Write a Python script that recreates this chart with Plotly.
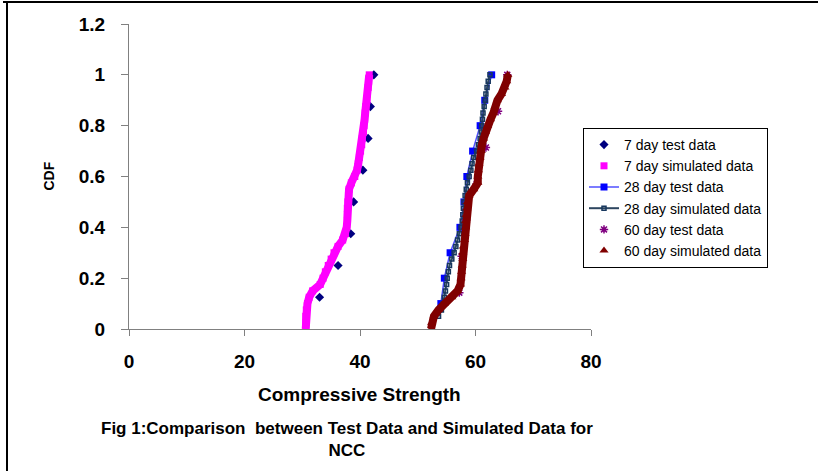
import plotly.graph_objects as go

# ---- data ----
cdf_7_test = [0.125, 0.25, 0.375, 0.5, 0.625, 0.75, 0.875, 1.0]
str_7_test = [33.0, 36.2, 38.4, 38.9, 40.5, 41.4, 41.8, 42.4]

cdf_sim = [0.0, 0.025, 0.05, 0.075, 0.10, 0.125, 0.15, 0.175, 0.20, 0.225,
           0.25, 0.275, 0.30, 0.325, 0.35, 0.375, 0.40, 0.425, 0.45, 0.475,
           0.50, 0.525, 0.55, 0.575, 0.60, 0.625, 0.65, 0.675, 0.70, 0.725,
           0.75, 0.775, 0.80, 0.825, 0.85, 0.875, 0.90, 0.925, 0.95, 0.975, 1.0]
str_7_sim = [30.6, 30.6, 30.6, 30.7, 30.9, 31.2, 31.8, 33.1, 33.6, 34.0,
             34.5, 35.0, 35.5, 36.2, 37.0, 37.5, 37.7, 37.8, 37.8, 37.8,
             37.9, 38.0, 38.1, 38.5, 39.1, 39.5, 39.7, 39.9, 40.1, 40.3,
             40.4, 40.6, 40.7, 40.8, 40.9, 41.0, 41.2, 41.3, 41.4, 41.5, 41.6]

cdf_28_test = [0.1, 0.2, 0.3, 0.4, 0.5, 0.6, 0.7, 0.8, 0.9, 1.0]
str_28_test = [54.0, 54.6, 55.6, 57.3, 58.0, 58.5, 59.5, 60.8, 61.6, 62.8]

cdf_28_sim = [0.05, 0.075, 0.10, 0.125, 0.15, 0.175, 0.20, 0.225, 0.25, 0.275,
              0.30, 0.325, 0.35, 0.375, 0.40, 0.425, 0.45, 0.475, 0.50, 0.525,
              0.55, 0.575, 0.60, 0.625, 0.65, 0.675, 0.70, 0.725, 0.75, 0.775,
              0.80, 0.825, 0.85, 0.875, 0.90, 0.925, 0.95, 0.975, 1.0]
str_28_sim = [53.6, 54.1, 54.4, 54.6, 54.8, 55.0, 55.1, 55.3, 55.5, 55.9,
              56.3, 56.6, 56.9, 57.2, 57.5, 57.7, 57.8, 57.9, 58.0, 58.2,
              58.4, 58.6, 58.9, 59.2, 59.4, 59.7, 60.2, 60.5, 60.8, 61.0,
              61.1, 61.2, 61.3, 61.5, 61.7, 61.8, 62.0, 62.2, 62.5]

cdf_60_test = [0.143, 0.286, 0.429, 0.571, 0.714, 0.857, 1.0]
str_60_test = [57.2, 57.6, 58.4, 60.2, 61.8, 63.9, 65.5]

str_60_sim = [52.3, 52.4, 52.8, 53.6, 54.6, 55.9, 56.9, 57.4, 57.5, 57.6,
              57.7, 57.8, 57.8, 57.9, 58.1, 58.2, 58.3, 58.3, 58.4, 58.5,
              58.6, 58.9, 59.7, 60.4, 60.4, 60.5, 60.6, 60.8, 61.0, 61.1,
              61.4, 61.7, 62.1, 62.6, 63.1, 63.4, 63.8, 64.5, 65.1, 65.4, 65.6]

x_ticks = [0, 20, 40, 60, 80]
x_tick_text = ["0", "20", "40", "60", "80"]
y_ticks = [0, 0.2, 0.4, 0.6, 0.8, 1, 1.2]
y_tick_text = ["0", "0.2", "0.4", "0.6", "0.8", "1", "1.2"]

FONT = "Liberation Sans, Arial, sans-serif"

fig = go.Figure()

fig.add_trace(go.Scatter(x=str_7_test, y=cdf_7_test, mode="markers",
                         name="7 day test data",
                         marker=dict(symbol="diamond", size=7, color="#000080")))
fig.add_trace(go.Scatter(x=str_7_sim, y=cdf_sim, mode="lines",
                         line=dict(color="#FF00FF", width=8), showlegend=False,
                         hoverinfo="skip"))
fig.add_trace(go.Scatter(x=str_7_sim, y=cdf_sim, mode="markers",
                         name="7 day simulated data",
                         marker=dict(symbol="square", size=7, color="#FF00FF")))
fig.add_trace(go.Scatter(x=str_28_test, y=cdf_28_test, mode="lines+markers",
                         name="28 day test data",
                         line=dict(color="#5050FF", width=1.5),
                         marker=dict(symbol="square", size=7, color="#0000FF")))
fig.add_trace(go.Scatter(x=str_28_sim, y=cdf_28_sim, mode="lines+markers",
                         name="28 day simulated data",
                         line=dict(color="#2E4660", width=2),
                         marker=dict(symbol="square-open", size=4, color="#17375E",
                                     line=dict(width=1.5, color="#17375E"))))
fig.add_trace(go.Scatter(x=str_60_test, y=cdf_60_test, mode="markers",
                         name="60 day test data",
                         marker=dict(symbol="asterisk", size=7, color="#800080",
                                     line=dict(width=1.5, color="#800080"))))
fig.add_trace(go.Scatter(x=str_60_sim, y=cdf_sim, mode="lines",
                         line=dict(color="#800000", width=8), showlegend=False,
                         hoverinfo="skip"))
fig.add_trace(go.Scatter(x=str_60_sim, y=cdf_sim, mode="markers",
                         name="60 day simulated data",
                         marker=dict(symbol="triangle-up", size=8, color="#800000")))

L, R, T, B = 129, 591, 24, 329
W, H = 818, 471
pw, ph = R - L, B - T

def px(x):
    return (x - L) / pw

def py(y):
    return (B - y) / ph

tickfont = dict(family=FONT, size=19, color="black")

fig.update_layout(
    width=W, height=H,
    margin=dict(l=L, r=W - R, t=T, b=H - B, pad=0),
    paper_bgcolor="white", plot_bgcolor="white",
    font=dict(family=FONT, color="black"),
    showlegend=True,
    legend=dict(x=px(583), y=py(128), xanchor="left", yanchor="top",
                bordercolor="black", borderwidth=1, bgcolor="white",
                font=dict(family=FONT, size=14, color="black"),
                itemwidth=30, tracegroupgap=0),
    xaxis=dict(range=[0, 80], tickvals=x_ticks,
               ticktext=["<b>%s</b>" % t for t in x_tick_text],
               showgrid=False, zeroline=False,
               showline=True, linecolor="#808080", linewidth=1,
               ticks="outside", ticklen=6, tickcolor="#808080",
               tickfont=tickfont, ticklabelstandoff=9, fixedrange=True),
    yaxis=dict(range=[0, 1.2], tickvals=y_ticks,
               ticktext=["<b>%s</b>" % t for t in y_tick_text],
               showgrid=False, zeroline=False,
               showline=True, linecolor="#808080", linewidth=1,
               ticks="outside", ticklen=7, tickcolor="#808080",
               tickfont=tickfont, ticklabelstandoff=12, fixedrange=True),
    annotations=[
        dict(text="<b>CDF</b>", x=px(48), y=0.5, xref="paper", yref="paper",
             textangle=-90, showarrow=False, xanchor="center", yanchor="middle",
             font=dict(family=FONT, size=14, color="black")),
        dict(text="<b>Compressive Strength</b>", x=px(359), y=py(394), xref="paper", yref="paper",
             showarrow=False, xanchor="center", yanchor="middle",
             font=dict(family=FONT, size=19, color="black")),
        dict(text="<b>Fig 1:Comparison  between Test Data and Simulated Data for</b><br><b>NCC</b>",
             x=px(347), y=py(439), xref="paper", yref="paper",
             showarrow=False, xanchor="center", yanchor="middle", align="center",
             font=dict(family=FONT, size=17, color="black")),
    ],
    shapes=[
        dict(type="line", xref="paper", yref="paper", x0=px(3), x1=px(818),
             y0=py(2), y1=py(2), line=dict(color="black", width=2)),
        dict(type="line", xref="paper", yref="paper", x0=px(7), x1=px(7),
             y0=py(2), y1=py(475), line=dict(color="black", width=2)),
    ],
)

fig.write_html("out.html", config={"displayModeBar": False},
               post_script="document.body.style.margin='0';document.body.style.padding='0';")
